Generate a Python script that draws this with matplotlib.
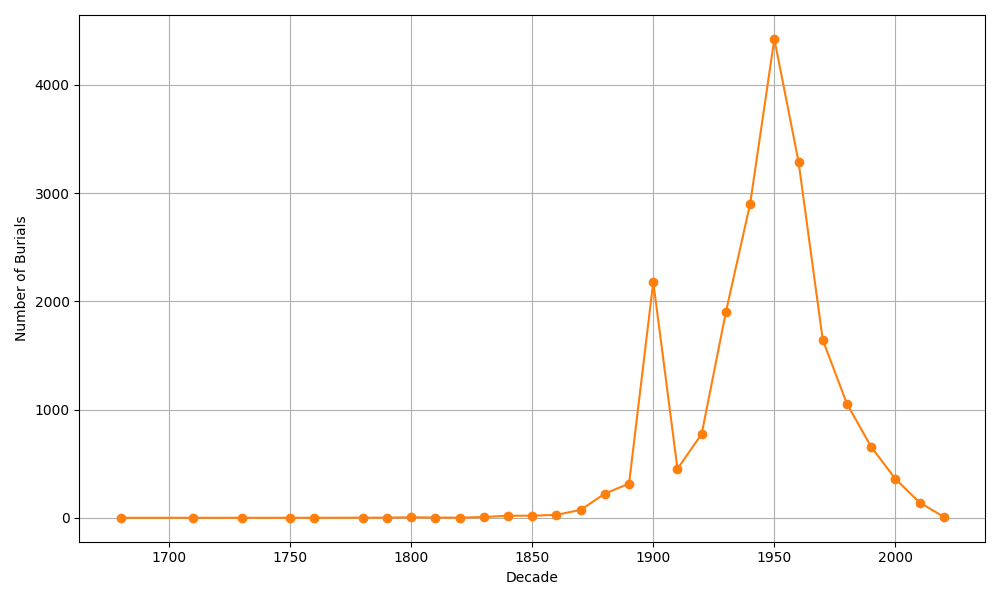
import matplotlib
matplotlib.use("Agg")
import matplotlib.pyplot as plt

decades = [1680, 1710, 1730, 1750, 1760, 1780, 1790, 1800, 1810, 1820, 1830,
           1840, 1850, 1860, 1870, 1880, 1890, 1900, 1910, 1920, 1930, 1940,
           1950, 1960, 1970, 1980, 1990, 2000, 2010, 2020]
burials = [1, 1, 1, 1, 1, 2, 2, 6, 3, 2, 8,
           20, 20, 28, 74, 224, 317, 2180, 453, 776, 1903, 2901,
           4425, 3289, 1644, 1053, 656, 360, 142, 9]

fig, ax = plt.subplots(figsize=(10, 6), dpi=100)
ax.plot(decades, burials, marker='o', color='#ff7f0e')
ax.set_xlabel('Decade')
ax.set_ylabel('Number of Burials')
ax.grid(True)
fig.tight_layout()
fig.savefig('out.png')
